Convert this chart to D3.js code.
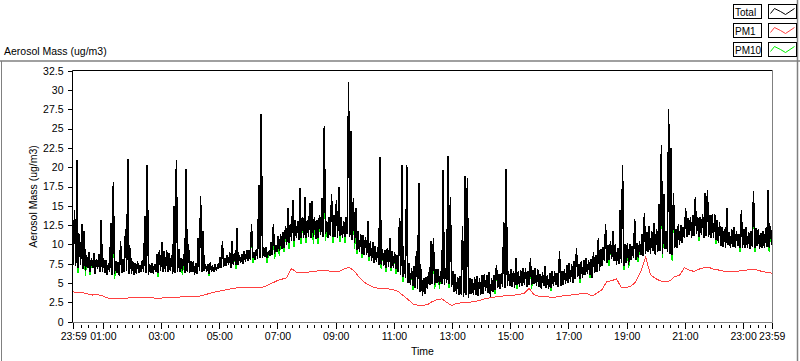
<!DOCTYPE html>
<html><head><meta charset="utf-8">
<script src="https://cdn.jsdelivr.net/npm/d3@7"></script>
<style>
body{margin:0;background:#fff;}
svg{display:block;font-family:"Liberation Sans",Arial,sans-serif;}
</style></head><body>
<svg id="c" width="800" height="361"></svg>
<script>
// ---- data ----
// Total and PM10 are read as the low and the high of each 5-minute window.
const startMinute = -1;      // 23:59 of previous day
const binStep = 5;           // minutes per Total / PM10 window
const pm1Step = 10;          // minutes between PM1 readings

const totalHigh = [
 14.5,21.0,11.4,12.6,11.7,8.6,9.0,8.3,8.9,8.1,8.8,13.2,
 8.2,8.0,7.6,12.8,18.1,7.9,7.7,10.4,8.1,12.0,21.1,9.5,
 7.8,7.6,7.9,7.3,8.0,13.7,20.3,7.4,7.6,7.5,8.8,9.3,
 10.3,9.1,9.3,8.9,8.6,15.0,20.9,9.4,8.2,8.7,19.8,10.1,
 7.9,7.8,7.6,10.8,16.3,11.7,7.5,7.4,7.7,7.1,7.4,7.3,
 8.4,10.5,8.2,8.6,9.0,10.4,8.9,12.1,8.6,8.8,9.1,9.3,
 9.3,12.6,9.0,9.4,17.7,26.9,9.6,9.6,9.2,10.3,12.6,9.9,
 11.1,11.3,11.6,12.4,14.7,12.6,15.8,13.2,13.0,17.3,13.5,16.2,
 13.2,15.4,15.6,13.5,13.2,13.8,16.0,25.4,13.0,13.6,16.5,13.8,
 15.8,17.5,13.6,13.0,13.5,31.0,24.7,16.0,14.7,11.8,11.4,11.2,
 11.0,13.0,10.4,10.3,9.8,9.6,21.3,9.4,9.3,9.5,10.8,9.2,
 9.0,8.6,13.4,20.3,8.0,20.3,7.6,6.9,7.2,9.1,18.0,6.8,
 5.7,5.8,6.4,10.4,10.8,6.8,6.8,6.5,19.7,7.0,21.5,16.2,
 6.6,6.2,5.8,5.9,12.4,18.8,18.6,5.7,5.5,5.8,5.9,5.6,
 6.0,6.2,6.0,6.4,5.6,6.1,7.4,6.2,6.3,12.9,19.8,6.5,
 6.8,6.6,8.2,6.5,6.7,6.9,6.9,6.6,8.2,6.7,7.0,6.8,
 6.2,6.4,7.2,6.1,6.3,6.5,6.5,6.3,9.1,6.6,6.8,7.4,
 7.6,7.4,7.8,9.5,7.5,7.9,8.0,8.3,8.0,8.1,9.0,8.6,
 10.8,9.4,9.6,12.6,9.9,10.4,11.7,10.0,9.6,14.5,20.3,10.0,
 10.2,10.0,9.8,13.3,10.2,10.4,11.3,14.1,11.6,12.4,11.8,12.8,
 12.0,15.2,22.9,16.5,11.8,27.6,22.5,16.7,12.0,12.6,12.5,12.2,
 14.7,13.4,13.6,13.8,16.2,13.5,13.6,14.0,16.6,17.1,13.8,13.9,
 13.9,13.2,12.9,12.2,12.0,14.7,11.6,12.0,12.3,11.8,11.4,14.4,
 12.0,12.2,11.6,11.8,16.9,12.1,12.0,11.5,11.8,12.1,17.0,12.4,11.2
];
const totalLow = [
 7.4,7.2,7.0,7.3,6.8,6.6,7.0,6.4,6.9,6.2,6.8,6.5,
 6.4,6.3,6.1,6.5,6.0,6.2,6.3,5.9,6.3,6.4,6.6,6.2,
 6.2,6.0,6.2,6.3,6.4,6.4,6.3,6.1,6.3,6.2,6.4,6.3,
 6.6,6.4,6.5,6.4,6.6,6.2,6.3,6.5,6.4,6.6,6.3,6.5,
 6.3,6.5,6.0,6.2,6.6,6.4,6.6,6.5,6.2,6.5,6.5,6.6,
 7.0,6.9,7.1,7.2,7.3,7.0,7.3,7.4,7.3,7.6,7.5,7.7,
 7.9,8.0,8.2,8.0,8.1,8.3,8.2,8.4,8.2,8.5,8.6,8.8,
 9.0,9.2,9.4,9.6,10.0,10.2,10.5,10.4,10.8,10.6,10.9,10.8,
 10.8,11.0,10.8,11.0,10.7,10.9,11.2,11.0,11.3,10.9,11.1,11.0,
 11.0,10.9,11.1,10.8,11.0,11.3,11.0,10.6,10.2,9.3,9.0,8.8,
 8.6,8.7,8.4,7.9,7.6,7.7,7.4,7.3,7.2,7.0,7.1,7.0,
 7.0,6.8,6.5,6.1,5.8,5.6,5.0,4.8,4.6,4.4,4.2,3.8,
 3.3,3.6,4.2,4.8,4.9,4.8,5.0,4.8,4.9,4.8,5.0,4.9,
 4.5,3.8,3.6,3.4,3.5,3.2,3.4,3.1,3.6,3.4,3.5,3.3,
 3.5,3.6,4.0,3.7,3.2,3.9,4.1,4.4,4.2,4.5,4.4,4.6,
 4.6,4.5,4.4,4.7,4.5,4.6,4.8,4.5,4.7,4.7,4.9,4.6,
 4.5,4.3,4.6,4.4,4.2,4.4,4.6,4.8,4.5,4.6,4.7,4.9,
 5.0,5.2,5.0,5.5,5.8,5.5,5.6,6.0,6.2,6.1,5.7,6.3,
 6.4,6.6,7.2,7.8,7.6,8.0,8.1,7.8,7.4,7.5,7.6,7.2,
 7.6,7.4,8.0,8.2,8.0,8.3,8.6,8.5,8.8,9.0,8.8,9.2,
 8.7,9.0,9.2,8.8,9.4,9.0,8.8,8.6,9.5,9.6,10.0,10.2,
 10.8,11.0,11.2,10.9,11.1,11.3,11.0,11.2,10.9,11.1,11.0,10.8,
 10.9,10.6,10.2,9.8,9.7,9.6,9.9,9.5,9.7,9.6,9.8,9.5,
 9.6,9.5,9.6,9.4,9.7,9.5,9.8,9.4,9.6,9.5,9.7,9.6,10.0
];
const pm10High = [
 14.5,21.0,11.4,12.6,11.7,8.6,9.0,8.3,8.9,8.1,8.8,13.2,
 8.2,8.0,7.6,12.8,18.1,7.9,7.7,10.4,8.1,12.0,21.1,9.5,
 7.8,7.6,7.9,7.3,8.0,13.7,20.3,7.4,7.6,7.5,8.8,9.3,
 10.3,9.1,9.3,8.9,8.6,15.0,20.9,9.4,8.2,8.7,19.8,10.1,
 7.9,7.8,7.6,10.8,16.3,11.7,7.5,7.4,7.7,7.1,7.4,7.3,
 8.4,10.5,8.2,8.6,9.0,10.4,8.9,12.1,8.6,8.8,9.1,9.3,
 9.3,12.6,9.0,9.4,17.7,26.9,9.6,9.6,9.2,10.3,12.6,9.9,
 11.1,11.3,11.6,12.4,14.7,12.6,15.8,13.2,13.0,17.3,13.5,16.2,
 13.2,15.4,15.6,13.5,13.2,13.8,16.0,25.4,13.0,13.6,16.5,13.8,
 15.8,17.5,13.6,13.0,13.5,31.0,24.7,16.0,14.7,11.8,11.4,11.2,
 11.0,13.0,10.4,10.3,9.8,9.6,21.3,9.4,9.3,9.5,10.8,9.2,
 9.0,8.6,13.4,20.3,8.0,20.3,7.6,6.9,7.2,9.1,18.0,6.8,
 5.7,5.8,6.4,10.4,10.8,6.8,6.8,6.5,19.7,7.0,21.5,16.2,
 6.6,6.2,5.8,5.9,12.4,18.8,18.6,5.7,5.5,5.8,5.9,5.6,
 6.0,6.2,6.0,6.4,5.6,6.1,7.4,6.2,6.3,12.9,19.8,6.5,
 6.8,6.6,8.2,6.5,6.7,6.9,6.9,6.6,8.2,6.7,7.0,6.8,
 6.2,6.4,7.2,6.1,6.3,6.5,6.5,6.3,9.1,6.6,6.8,7.4,
 7.6,7.4,7.8,9.5,7.5,7.9,8.0,8.3,8.0,8.1,9.0,8.6,
 10.8,9.4,9.6,12.6,9.9,10.4,11.7,10.0,9.6,14.5,20.3,10.0,
 10.2,10.0,9.8,13.3,10.2,10.4,11.3,14.1,11.6,12.4,11.8,12.8,
 12.0,15.2,22.9,16.5,11.8,27.6,22.5,16.7,12.0,12.6,12.5,12.2,
 14.7,13.4,13.6,13.8,16.2,13.5,13.6,14.0,16.6,17.1,13.8,13.9,
 13.9,13.2,12.9,12.2,12.0,14.7,11.6,12.0,12.3,11.8,11.4,14.4,
 12.0,12.2,11.6,11.8,16.9,12.1,12.0,11.5,11.8,12.1,17.0,12.4,11.2
];
const pm10Low = [
 7.4,7.2,6.3,7.3,6.8,5.9,7.0,6.0,6.9,6.2,6.8,6.5,
 6.4,6.3,6.1,6.5,6.0,5.5,6.3,5.9,6.3,6.4,6.6,6.2,
 6.2,6.0,6.2,6.3,6.4,6.4,6.3,6.1,6.3,6.2,6.4,5.8,
 6.6,6.4,6.5,6.4,6.6,6.2,6.3,6.5,6.4,6.0,6.3,6.5,
 6.3,6.5,6.0,6.2,6.6,6.4,6.6,6.5,5.9,6.5,6.5,6.6,
 7.0,6.9,7.1,7.2,7.3,7.0,7.3,6.8,7.3,7.6,7.5,7.7,
 7.9,8.0,7.6,8.0,8.1,8.3,8.2,8.4,7.6,8.5,8.6,8.1,
 9.0,8.5,9.4,9.0,10.0,9.4,10.5,9.7,10.8,10.6,10.0,10.8,
 10.2,11.0,10.8,10.1,10.7,10.0,11.2,11.0,10.4,10.9,11.1,10.2,
 11.0,10.9,10.3,10.8,10.2,11.3,11.0,10.6,9.4,8.8,9.0,8.3,
 8.6,8.7,7.8,7.9,7.6,7.7,7.4,6.8,7.2,6.5,7.1,6.6,
 7.0,6.2,6.5,6.1,5.2,5.6,5.0,4.8,4.1,4.4,4.2,3.8,
 3.3,3.6,4.2,4.8,4.9,4.2,5.0,4.3,4.9,4.8,5.0,4.4,
 4.5,3.8,3.6,3.4,3.5,3.2,3.4,3.1,3.6,3.4,3.5,3.3,
 3.5,3.6,4.0,3.7,3.2,3.9,3.6,4.4,4.2,4.5,4.4,4.6,
 4.6,4.5,4.4,4.2,4.5,4.6,4.8,4.5,4.7,4.3,4.9,4.6,
 4.5,4.3,4.6,4.4,4.2,4.0,4.6,4.8,4.5,4.6,4.7,4.9,
 5.0,5.2,5.0,5.5,5.8,5.0,5.6,6.0,6.2,5.6,5.7,6.3,
 6.4,6.6,7.2,7.8,7.6,7.2,8.1,7.8,7.4,7.5,7.6,6.7,
 7.6,6.9,8.0,8.2,8.0,7.7,8.6,8.5,8.8,9.0,8.8,9.2,
 8.7,9.0,9.2,8.2,9.4,9.0,8.8,7.9,9.5,9.6,10.0,10.2,
 10.8,11.0,11.2,10.9,11.1,11.3,10.4,11.2,10.9,11.1,11.0,10.8,
 10.9,10.0,10.2,9.8,9.7,9.6,9.9,9.5,9.7,9.6,9.8,9.0,
 9.6,9.5,9.6,9.4,9.7,9.0,9.8,9.4,9.6,9.5,9.7,9.0,10.0
];

const pm1Values = [
 3.85,3.8,3.75,3.6,3.45,3.5,3.35,3.1,2.95,2.95,2.95,3.05,
 3.1,3.1,3.15,3.1,3.1,3.05,3.05,3.1,3.15,3.15,3.2,3.25,
 3.25,3.3,3.3,3.45,3.65,3.8,3.95,4.05,4.2,4.3,4.4,4.4,
 4.4,4.4,4.4,4.45,4.7,5.0,5.3,5.5,5.7,6.9,6.4,6.4,
 6.35,6.5,6.55,6.6,6.6,6.55,6.5,6.55,6.9,7.0,6.5,5.7,
 5.1,4.75,4.45,4.3,4.25,4.25,4.15,3.9,3.4,2.9,2.3,2.15,
 2.1,2.2,2.6,2.85,2.95,2.5,2.1,2.35,2.45,2.5,2.55,2.65,
 2.8,3.0,3.1,3.2,3.3,3.35,3.4,3.45,3.55,3.7,4.3,3.5,
 3.3,3.3,3.2,3.15,3.25,3.35,3.4,3.5,3.55,3.65,3.6,3.35,
 3.7,4.15,5.2,5.3,5.55,4.4,4.4,4.6,5.2,6.5,8.4,6.1,
 5.6,5.3,5.15,5.3,5.85,6.0,7.0,6.7,6.5,6.8,7.0,7.05,
 6.8,6.7,6.55,6.5,6.5,6.55,6.6,6.7,6.7,6.7,6.5,6.4,6.3
];

const yTickValues = [0,2.5,5,7.5,10,12.5,15,17.5,20,22.5,25,27.5,30,32.5];
const xLabelMinutes = [-1,60,180,300,420,540,660,780,900,1020,1140,1260,1380,1439];
const xLabelText = ["23:59","01:00","03:00","05:00","07:00","09:00","11:00","13:00","15:00","17:00","19:00","21:00","23:00","23:59"];
const seriesNames = ["Total","PM1","PM10"];

// ---- styles ----
const colors = {Total:"#000000", PM1:"#ff4040", PM10:"#00f000"};
const svg = d3.select("#c");
const L = 72.5, R = 772.5, T = 70.5, B = 322.5;
const x = d3.scaleLinear().domain([-1, 1439]).range([73.3, 771.7]);
const y = d3.scaleLinear().domain([0, 32.5]).range([321.7, 70.7]);

// outer panel frame
svg.append("line").attr("x1",0).attr("x2",800).attr("y1",61).attr("y2",61).attr("stroke","#808080").attr("stroke-width",1.5);
svg.append("line").attr("x1",1.5).attr("x2",1.5).attr("y1",61).attr("y2",361).attr("stroke","#808080");
svg.append("line").attr("x1",797.5).attr("x2",797.5).attr("y1",0).attr("y2",361).attr("stroke","#808080").attr("stroke-width",1.5);

// titles
svg.append("text").attr("x",4).attr("y",54.5).attr("font-size","10.5px").text("Aerosol Mass (ug/m3)");
svg.append("text").attr("transform",`translate(36.5,${(T+B)/2}) rotate(-90)`).attr("text-anchor","middle").attr("font-size","10.5px").text("Aerosol Mass (ug/m3)");
svg.append("text").attr("x",(L+R)/2).attr("y",355).attr("text-anchor","middle").attr("font-size","10.5px").text("Time");

// y axis
const yAxis = d3.axisLeft(y).tickValues(yTickValues).tickSize(5).tickPadding(4).tickFormat(d=>String(d));
const gy = svg.append("g").attr("transform",`translate(${L},0)`).call(yAxis);
gy.select(".domain").remove();
gy.selectAll("text").attr("font-size","10.5px").attr("font-family","Liberation Sans, Arial, sans-serif").attr("fill","#000");
gy.selectAll("line").attr("stroke","#000").attr("shape-rendering","crispEdges");

// x axis: minor ticks every 15 min, major labelled ticks
const minorTicks = d3.range(15, 1439, 15).filter(m => !xLabelMinutes.includes(m));
const gxm = svg.append("g").attr("transform",`translate(0,${B+2})`)
  .call(d3.axisBottom(x).tickValues(minorTicks).tickSize(3).tickFormat(""));
gxm.select(".domain").remove();
gxm.selectAll("line").attr("stroke","#000").attr("shape-rendering","crispEdges");
const gx = svg.append("g").attr("transform",`translate(0,${B+0.5})`)
  .call(d3.axisBottom(x).tickValues(xLabelMinutes).tickSize(6).tickPadding(4)
        .tickFormat((d,i)=>xLabelText[i]));
gx.select(".domain").remove();
gx.selectAll("line").attr("stroke","#000").attr("shape-rendering","crispEdges");
gx.selectAll("text").attr("font-size","10.5px").attr("font-family","Liberation Sans, Arial, sans-serif").attr("fill","#000");

// plot area
svg.append("defs").append("clipPath").attr("id","clip").append("rect")
  .attr("x",L).attr("y",T).attr("width",R-L).attr("height",B-T);
const plot = svg.append("g").attr("clip-path","url(#clip)");

// each 5-minute window is drawn from its low to its high
function windowPoints(lows, highs){
  const pts = [];
  lows.forEach((lo,i)=>{
    const t = startMinute + i*binStep;
    pts.push([x(t), y(lo)]);
    pts.push([x(t + binStep/2), y(highs[i])]);
  });
  return pts;
}
const line = d3.line();
plot.append("path").datum(pm1Values)
  .attr("d", d3.line().x((d,i)=>x(startMinute + i*pm1Step)).y(d=>y(d)))
  .attr("fill","none").attr("stroke",colors.PM1).attr("stroke-width",1).attr("shape-rendering","crispEdges");
plot.append("path").attr("d", line(windowPoints(pm10Low, pm10High))).attr("fill","none")
  .attr("stroke",colors.PM10).attr("stroke-width",1.5).attr("shape-rendering","crispEdges");
plot.append("path").attr("d", line(windowPoints(totalLow, totalHigh))).attr("fill","none")
  .attr("stroke",colors.Total).attr("stroke-width",1.5).attr("shape-rendering","crispEdges");

// plot frame
svg.append("line").attr("x1",L).attr("x2",R).attr("y1",T).attr("y2",T).attr("stroke","#000");
svg.append("line").attr("x1",L).attr("x2",L).attr("y1",T).attr("y2",B).attr("stroke","#000");
svg.append("line").attr("x1",R).attr("x2",R).attr("y1",T).attr("y2",B).attr("stroke","#808080");
svg.append("line").attr("x1",L).attr("x2",R).attr("y1",B).attr("y2",B).attr("stroke","#808080");

// legend
const legendTops = [4.5, 23.5, 42.5];
const samplePts = [[2,8],[6,3],[12,6],[17,9],[26,3]];
seriesNames.forEach((name,i)=>{
  const g = svg.append("g").attr("transform",`translate(0,${legendTops[i]})`);
  g.append("rect").attr("x",733.5).attr("y",0).attr("width",28).attr("height",14).attr("fill","#fff").attr("stroke","#000");
  g.append("text").attr("x",735).attr("y",11.5).attr("font-size","10px").text(name);
  g.append("rect").attr("x",768.5).attr("y",0).attr("width",28).attr("height",14).attr("fill","#fff").attr("stroke","#000");
  g.append("path").attr("d", d3.line()(samplePts.map(p=>[768.5+p[0], p[1]+1])))
    .attr("fill","none").attr("stroke",colors[name]).attr("stroke-width",1);
});
</script>
</body></html>
